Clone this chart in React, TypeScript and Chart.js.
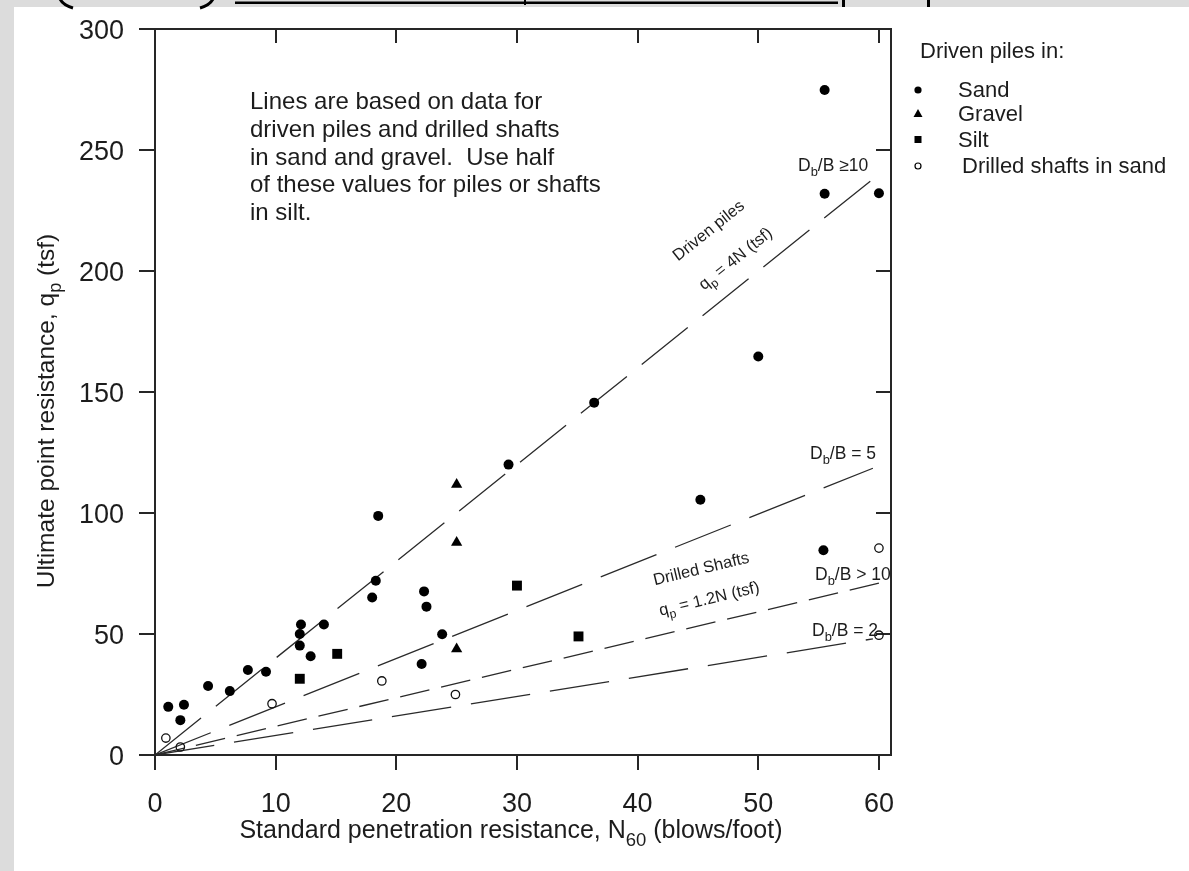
import React, { useEffect, useRef } from 'react';
import { Chart, registerables } from 'chart.js';

Chart.register(...registerables);

// ---------- data ----------
const xTicks = [0, 10, 20, 30, 40, 50, 60];
const yTicks = [0, 50, 100, 150, 200, 250, 300];

const sandX = [1.1, 2.1, 2.4, 4.4, 6.2, 7.7, 9.2, 12.0, 12.0, 12.1, 12.9, 14.0, 18.0, 18.3, 18.5, 22.1, 22.3, 22.5, 23.8, 29.3, 36.4, 45.2, 50.0, 55.4, 55.5, 55.5, 60.0];
const sandY = [19.9, 14.4, 20.8, 28.5, 26.4, 35.1, 34.4, 45.2, 50.0, 53.9, 40.8, 53.9, 65.1, 72.0, 98.8, 37.6, 67.6, 61.3, 49.9, 120.0, 145.6, 105.5, 164.7, 84.6, 231.9, 274.8, 232.1];

const gravelX = [25.0, 25.0, 25.0];
const gravelY = [111.8, 87.8, 43.8];

const siltX = [12.0, 15.1, 30.0, 35.1];
const siltY = [31.5, 41.8, 70.0, 49.0];

const drilledX = [0.9, 2.1, 9.7, 18.8, 24.9, 60.0, 60.0];
const drilledY = [7.0, 3.3, 21.2, 30.6, 25.0, 85.5, 49.5];

// design lines (start / end)
const lineKeys = ['drivenPiles4N', 'dbB5', 'drilledShafts12N', 'dbB2'];
const lineStartX = [0, 0, 0, 0];
const lineStartY = [0, 0, 0, 0];
const lineEndX = [59.5, 59.5, 60.0, 59.5];
const lineEndY = [238.0, 118.5, 71.0, 48.0];
const lineDashes = [[59, 19], [60, 20], [30, 12], [60, 20]];

const noteLines = [
  'Lines are based on data for',
  'driven piles and drilled shafts',
  'in sand and gravel.  Use half',
  'of these values for piles or shafts',
  'in silt.',
];

const legendTitle = 'Driven piles in:';
const legendLabels = ['Sand', 'Gravel', 'Silt', 'Drilled shafts in sand'];

const FAM = '"Liberation Sans", Arial, Helvetica, sans-serif';
const INK = '#1c1c1c';

type Seg = { t: string; sub?: boolean };

function segFont(size: number, sub?: boolean) {
  return `${sub ? size * 0.74 : size}px ${FAM}`;
}
function richWidth(ctx: CanvasRenderingContext2D, segs: Seg[], size: number) {
  let w = 0;
  for (const s of segs) {
    ctx.font = segFont(size, s.sub);
    w += ctx.measureText(s.t).width;
  }
  return w;
}
function drawRich(
  ctx: CanvasRenderingContext2D,
  segs: Seg[],
  x: number,
  y: number,
  size: number,
  align: 'left' | 'center' | 'right' = 'left'
) {
  const w = richWidth(ctx, segs, size);
  let cx = align === 'left' ? x : align === 'center' ? x - w / 2 : x - w;
  ctx.textAlign = 'left';
  ctx.textBaseline = 'alphabetic';
  for (const s of segs) {
    ctx.font = segFont(size, s.sub);
    ctx.fillText(s.t, cx, y + (s.sub ? size * 0.3 : 0));
    cx += ctx.measureText(s.t).width;
  }
}

const pagePlugin = {
  id: 'pagePlugin',
  beforeDraw(chart: any) {
    const { ctx, width, height } = chart;
    ctx.save();
    ctx.fillStyle = '#dcdcdc';
    ctx.fillRect(0, 0, width, height);
    ctx.fillStyle = '#ffffff';
    ctx.fillRect(14, 7, width - 14, height - 7);
    // remnants of the figure above (cut off)
    ctx.strokeStyle = '#000';
    ctx.lineWidth = 3;
    ctx.beginPath();
    ctx.moveTo(60, -1);
    ctx.quadraticCurveTo(63, 5, 73, 8);
    ctx.stroke();
    ctx.beginPath();
    ctx.moveTo(213, -1);
    ctx.quadraticCurveTo(210, 5, 200, 8);
    ctx.stroke();
    ctx.fillStyle = '#000';
    ctx.fillRect(235, 1.5, 603, 2.5);
    ctx.fillRect(524, 0, 2, 5);
    ctx.fillRect(842, 0, 3, 7);
    ctx.fillRect(927, 0, 3, 7);
    ctx.restore();
  },
  beforeDatasetsDraw(chart: any) {
    const { ctx, chartArea } = chart;
    const { left, right, top, bottom } = chartArea;
    const xs = chart.scales.x;
    const ys = chart.scales.y;
    ctx.save();
    ctx.strokeStyle = '#262626';
    ctx.lineWidth = 2;
    ctx.strokeRect(left, top, right - left, bottom - top);
    ctx.beginPath();
    for (const v of xTicks) {
      const px = Math.round(xs.getPixelForValue(v));
      ctx.moveTo(px, bottom);
      ctx.lineTo(px, bottom + 15);
      if (v > 0) {
        ctx.moveTo(px, top);
        ctx.lineTo(px, top + 14);
      }
    }
    for (const v of yTicks) {
      const py = Math.round(ys.getPixelForValue(v));
      ctx.moveTo(left - 16, py);
      ctx.lineTo(left, py);
      if (v > 0 && v < 300) {
        ctx.moveTo(right - 15, py);
        ctx.lineTo(right, py);
      }
    }
    ctx.stroke();

    // tick labels
    ctx.fillStyle = INK;
    ctx.font = `27px ${FAM}`;
    ctx.textBaseline = 'alphabetic';
    ctx.textAlign = 'right';
    for (const v of yTicks) {
      const py = ys.getPixelForValue(v);
      ctx.fillText(String(v), left - 31, py + 10);
    }
    ctx.textAlign = 'center';
    for (const v of xTicks) {
      const px = xs.getPixelForValue(v);
      ctx.fillText(String(v), px, bottom + 57);
    }

    // axis titles
    drawRich(
      ctx,
      [{ t: 'Standard penetration resistance, N' }, { t: '60', sub: true }, { t: ' (blows/foot)' }],
      xs.getPixelForValue(29.5),
      bottom + 83,
      25,
      'center'
    );
    ctx.save();
    ctx.translate(54, (top + bottom) / 2 + 19);
    ctx.rotate(-Math.PI / 2);
    drawRich(
      ctx,
      [{ t: 'Ultimate point resistance, q' }, { t: 'p', sub: true }, { t: ' (tsf)' }],
      0,
      0,
      24.5,
      'center'
    );
    ctx.restore();
    ctx.restore();
  },
  afterDatasetsDraw(chart: any) {
    const { ctx } = chart;
    const xs = chart.scales.x;
    const ys = chart.scales.y;
    ctx.save();
    ctx.fillStyle = INK;

    // note block
    ctx.font = `24px ${FAM}`;
    ctx.textAlign = 'left';
    ctx.textBaseline = 'alphabetic';
    noteLines.forEach((s, i) => ctx.fillText(s, 250, 109 + i * 27.8));

    // rotated line labels
    const angleFor = (slope: number) =>
      Math.atan2(
        ys.getPixelForValue(slope * 60) - ys.getPixelForValue(0),
        xs.getPixelForValue(60) - xs.getPixelForValue(0)
      );
    const rot = (cx: number, cy: number, ang: number, segs: Seg[], size: number) => {
      ctx.save();
      ctx.translate(cx, cy);
      ctx.rotate(ang);
      drawRich(ctx, segs, 0, size * 0.36, size, 'center');
      ctx.restore();
    };
    const a4 = angleFor(4);
    rot(708, 230, a4, [{ t: 'Driven piles' }], 16.5);
    rot(735, 258, a4, [{ t: 'q' }, { t: 'p', sub: true }, { t: ' = 4N (tsf)' }], 16.5);
    const a12 = angleFor(1.2);
    rot(701, 568, a12, [{ t: 'Drilled Shafts' }], 16.5);
    rot(709, 598, a12, [{ t: 'q' }, { t: 'p', sub: true }, { t: ' = 1.2N (tsf)' }], 16.5);

    // D_b/B labels
    const db = (x: number, y: number, rest: string) =>
      drawRich(ctx, [{ t: 'D' }, { t: 'b', sub: true }, { t: rest }], x, y, 17.5, 'left');
    db(798, 171, '/B \u226510');
    db(810, 459, '/B = 5');
    db(815, 580, '/B > 10');
    db(812, 636, '/B = 2');

    // legend
    ctx.fillStyle = INK;
    ctx.font = `22px ${FAM}`;
    ctx.textAlign = 'left';
    ctx.fillText(legendTitle, 920, 58);
    const ly = [97, 121, 147, 173];
    const lx = [958, 958, 958, 962];
    legendLabels.forEach((s, i) => ctx.fillText(s, lx[i], ly[i]));
    // legend markers
    const mx = 918;
    ctx.fillStyle = '#000';
    ctx.strokeStyle = '#000';
    ctx.beginPath();
    ctx.arc(mx, ly[0] - 7, 3.6, 0, Math.PI * 2);
    ctx.fill();
    ctx.beginPath();
    ctx.moveTo(mx, ly[1] - 12);
    ctx.lineTo(mx + 4.5, ly[1] - 4);
    ctx.lineTo(mx - 4.5, ly[1] - 4);
    ctx.closePath();
    ctx.fill();
    ctx.fillRect(mx - 3.5, ly[2] - 11, 7, 7);
    ctx.lineWidth = 1.2;
    ctx.beginPath();
    ctx.arc(mx, ly[3] - 7, 3, 0, Math.PI * 2);
    ctx.stroke();

    ctx.restore();
  },
};

function pts(xs: number[], ys: number[]) {
  return xs.map((x, i) => ({ x, y: ys[i] }));
}

export default function App() {
  const ref = useRef<HTMLCanvasElement | null>(null);
  useEffect(() => {
    if (!ref.current) return;
    const lineSets = lineKeys.map((k, i) => ({
      type: 'scatter' as const,
      label: k,
      data: [
        { x: lineStartX[i], y: lineStartY[i] },
        { x: lineEndX[i], y: lineEndY[i] },
      ],
      showLine: true,
      borderColor: '#2a2a2a',
      borderWidth: 1.3,
      borderDash: lineDashes[i],
      pointRadius: 0,
      fill: false,
      order: 2,
    }));
    const chart = new Chart(ref.current, {
      type: 'scatter',
      data: {
        datasets: [
          ...lineSets,
          {
            label: 'Sand',
            data: pts(sandX, sandY),
            pointStyle: 'circle',
            pointRadius: 5,
            backgroundColor: '#000',
            borderColor: '#000',
            borderWidth: 0,
            order: 1,
          },
          {
            label: 'Gravel',
            data: pts(gravelX, gravelY),
            pointStyle: 'triangle',
            pointRadius: 6.5,
            backgroundColor: '#000',
            borderColor: '#000',
            borderWidth: 0,
            order: 1,
          },
          {
            label: 'Silt',
            data: pts(siltX, siltY),
            pointStyle: 'rect',
            pointRadius: 7,
            backgroundColor: '#000',
            borderColor: '#000',
            borderWidth: 0,
            order: 1,
          },
          {
            label: 'Drilled shafts in sand',
            data: pts(drilledX, drilledY),
            pointStyle: 'circle',
            pointRadius: 4.2,
            backgroundColor: 'rgba(0,0,0,0)',
            borderColor: '#111',
            borderWidth: 1.3,
            order: 1,
          },
        ] as any,
      },
      options: {
        responsive: false,
        animation: false,
        devicePixelRatio: 1,
        events: [],
        layout: { padding: { left: 155, top: 29, right: 298, bottom: 116 } },
        plugins: {
          legend: { display: false },
          tooltip: { enabled: false },
          title: { display: false },
        },
        scales: {
          x: { type: 'linear', min: 0, max: 61, display: false },
          y: { type: 'linear', min: 0, max: 300, display: false },
        },
      },
      plugins: [pagePlugin],
    });
    return () => chart.destroy();
  }, []);

  return (
    <div style={{ position: 'fixed', left: 0, top: 0, width: 1189, height: 871, overflow: 'hidden' }}>
      <canvas ref={ref} width={1189} height={871} style={{ display: 'block', width: 1189, height: 871 }} />
    </div>
  );
}
